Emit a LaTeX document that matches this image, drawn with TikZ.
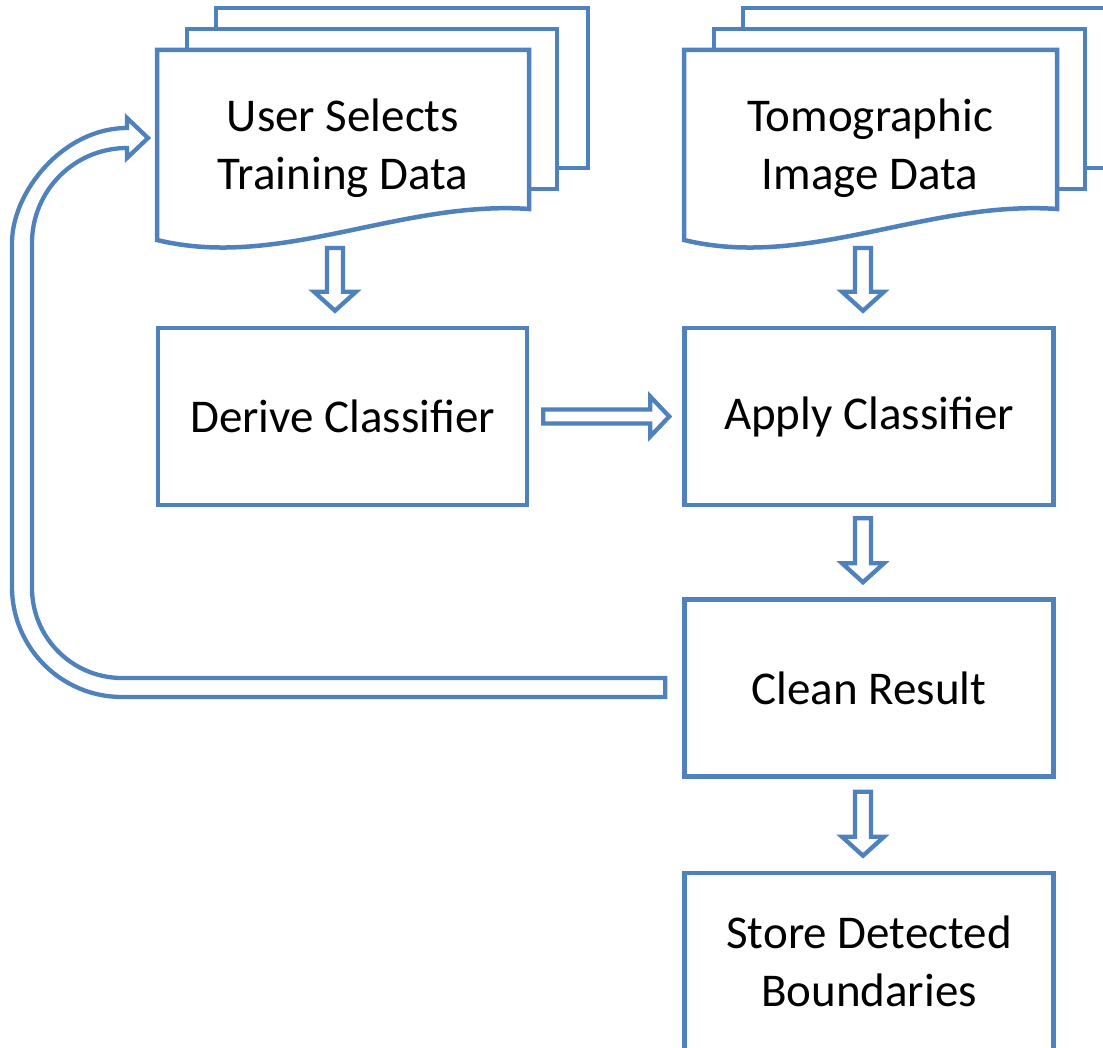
\documentclass[tikz,border=0pt]{standalone}
\usepackage{fontspec}
\setmainfont{Carlito}
\usetikzlibrary{calc}

\definecolor{flowblue}{HTML}{4F81BD}

\tikzset{
  boxline/.style={draw=flowblue, line width=4.5pt, fill=white},
  arrowline/.style={draw=flowblue, line width=4.3pt, fill=white, line join=miter},
  stage/.style={boxline, minimum width=369pt, minimum height=177pt, inner sep=0pt,
    align=center, font=\fontsize{47pt}{58pt}\selectfont},
  doctext/.style={align=center, inner sep=0pt, font=\fontsize{47pt}{58pt}\selectfont},
  % hollow block arrow pointing down, 15pt gap at both ends
  blockdown/.style={arrowline, to path={let \p1=(\tikztostart),\p2=(\tikztotarget) in
     (\x1-8pt,\y1-15pt) -- (\x1+8pt,\y1-15pt) -- (\x1+8pt,\y2+34pt) -- (\x1+21pt,\y2+34pt)
     -- (\x1,\y2+15pt) -- (\x1-21pt,\y2+34pt) -- (\x1-8pt,\y2+34pt) -- cycle}},
  % hollow block arrow pointing right
  blockright/.style={arrowline, to path={let \p1=(\tikztostart),\p2=(\tikztotarget) in
     (\x1+14pt,\y1-7pt) -- (\x2-32pt,\y1-7pt) -- (\x2-32pt,\y1-20pt) -- (\x2-13pt,\y1)
     -- (\x2-32pt,\y1+20pt) -- (\x2-32pt,\y1+7pt) -- (\x1+14pt,\y1+7pt) -- cycle}},
}

% stacked document: two back sheets and a front sheet with a wavy bottom edge
\newcommand\docstack[3]{% #1 left, #2 right of front sheet, #3 right of last sheet
  \filldraw[boxline] ({#1+59},8) -- (#3,8) -- (#3,168) -- ({#1+59},168) -- cycle;
  \filldraw[boxline] ({#1+30},29) -- ({#2+28},29) -- ({#2+28},189) -- ({#1+30},189) -- cycle;
  \filldraw[boxline] (#1,50) -- (#2,50) -- (#2,209)
     .. controls ({#2-129},200) and ({#1+123},270) .. (#1,240) -- cycle;
}

\begin{document}
\begin{tikzpicture}[x=1pt,y=-1pt]
\useasboundingbox (0,0) rectangle (1103,1048);

% input documents
\docstack{157}{529}{588}
\docstack{684}{1057}{1125}
\node[doctext] (usr) at (343,148) {User Selects\\Training Data};
\node[doctext] (tomo) at (870,148) {Tomographic\\Image Data};
\coordinate (usrbot) at (335,233);
\coordinate (tomobot) at (863,233);

% processing stages
\node[stage] (der) at (342.5,416.5) {Derive Classifier};
\node[stage] (apl) at (869,416.5) {Apply Classifier};
\node[stage] (cln) at (869,688) {Clean Result};
\node[stage] (sto) at (869,961.5) {Store Detected\\Boundaries};

% flow arrows
\draw[blockdown] (usrbot) to (usrbot |- der.north);
\draw[blockdown] (tomobot) to (tomobot |- apl.north);
\draw[blockright] (der.east) to (apl.west);
\draw[blockdown] ([xshift=-6pt,yshift=4pt]apl.south) to ([xshift=-6pt]cln.north);
\draw[blockdown] ([xshift=-6pt,yshift=2pt]cln.south) to ([xshift=-6pt]sto.north);

% feedback loop from the cleaned result back to the training data
\coordinate (fbstart) at ([xshift=-17pt]cln.west);
\coordinate (fbtip) at (148,138);
\draw[arrowline, fill=none]
  (fbstart |- 0,678) -- (122,678)
  .. controls (72.3,678) and (32,637.7) .. (32,588)
  -- (32,243)
  .. controls (32,190.5) and (74.5,148) .. (127,148)
  -- (127,158) -- (fbtip) -- (127,118) -- (127,128)
  .. controls (63.5,128) and (12,191.5) .. (12,243)
  -- (12,587)
  .. controls (12,647.75) and (61.25,697) .. (122,697)
  -- (fbstart |- 0,697) -- cycle;
\end{tikzpicture}
\end{document}
